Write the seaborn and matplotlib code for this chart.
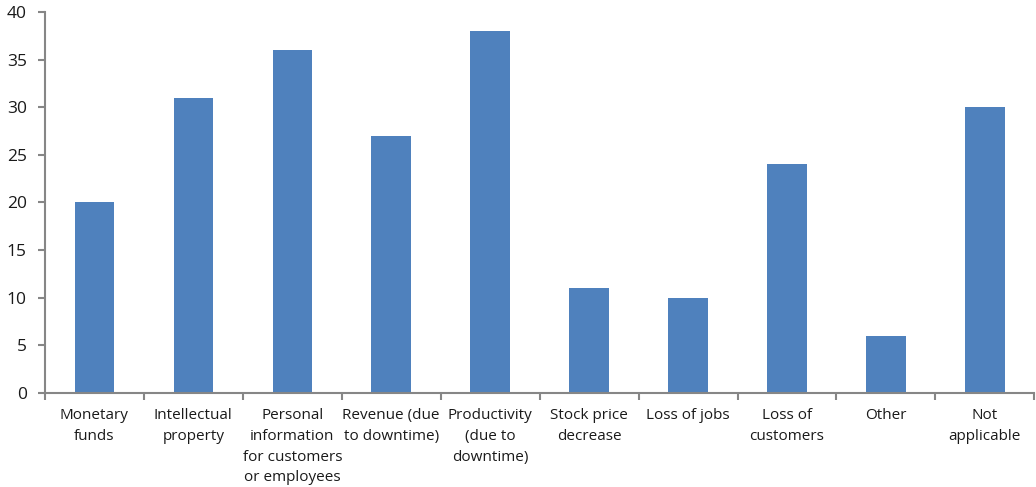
import matplotlib
matplotlib.use("Agg")
import matplotlib.pyplot as plt
import seaborn as sns
import pandas as pd

categories = [
    "Monetary\nfunds",
    "Intellectual\nproperty",
    "Personal\ninformation\nfor customers\nor employees",
    "Revenue (due\nto downtime)",
    "Productivity\n(due to\ndowntime)",
    "Stock price\ndecrease",
    "Loss of jobs",
    "Loss of\ncustomers",
    "Other",
    "Not\napplicable",
]
values = [20, 31, 36, 27, 38, 11, 10, 24, 6, 30]
y_ticks = [0, 5, 10, 15, 20, 25, 30, 35, 40]

sns.set_theme(style="white")
plt.rcParams["font.family"] = ["Open Sans", "DejaVu Sans"]

df = pd.DataFrame({"category": categories, "value": values})

fig = plt.figure(figsize=(10.36, 4.87), dpi=100)
ax = fig.add_axes([0.0434, 0.193, 0.955, 0.7826])

sns.barplot(data=df, x="category", y="value", color="#4F81BD",
            saturation=1, width=0.4, linewidth=0, ax=ax)

spine_color = "#868686"
for side in ["top", "right"]:
    ax.spines[side].set_visible(False)
for side in ["left", "bottom"]:
    ax.spines[side].set_color(spine_color)
    ax.spines[side].set_linewidth(1.5)

ax.set_xlim(-0.5, len(categories) - 0.5)
ax.set_ylim(0, 40)
ax.set_yticks(y_ticks)
ax.set_xlabel("")
ax.set_ylabel("")

# category boundary ticks on the x axis
ax.set_xticks([i - 0.5 for i in range(len(categories) + 1)], minor=True)
ax.tick_params(axis="x", which="major", length=0, pad=11,
               labelsize=11, labelcolor="#1a1a1a")
ax.tick_params(axis="x", which="minor", direction="out", length=5,
               width=1.5, color=spine_color, bottom=True)
ax.tick_params(axis="y", direction="out", length=5, width=1.5,
               color=spine_color, left=True, labelsize=12.5,
               labelcolor="#1a1a1a", pad=8)
for lbl in ax.get_xticklabels():
    lbl.set_linespacing(1.52)
    lbl.set_verticalalignment("top")

fig.savefig("out.png", dpi=100)
